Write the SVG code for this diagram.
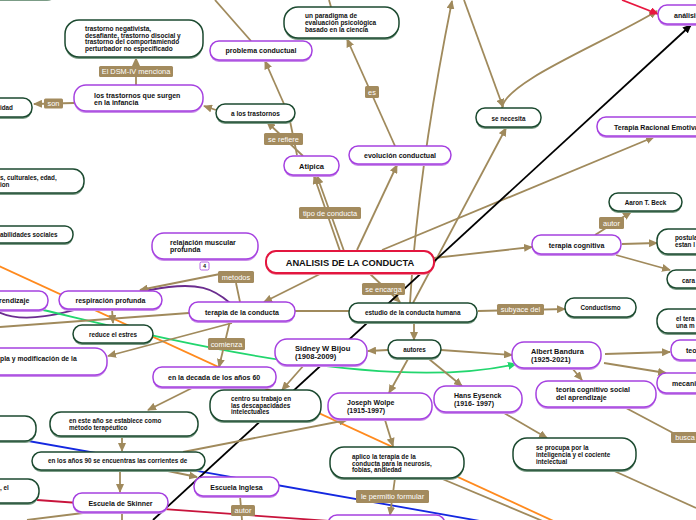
<svg xmlns="http://www.w3.org/2000/svg" width="696" height="520" viewBox="0 0 696 520">
<defs>
<marker id="ab" markerUnits="userSpaceOnUse" markerWidth="9" markerHeight="8" refX="8" refY="4" orient="auto"><path d="M0,0 L9,4 L0,8 z" fill="#a08a5c"/></marker>
<marker id="ak" markerUnits="userSpaceOnUse" markerWidth="9" markerHeight="8" refX="8" refY="4" orient="auto"><path d="M0,0 L9,4 L0,8 z" fill="#000"/></marker>
<marker id="ar" markerUnits="userSpaceOnUse" markerWidth="9" markerHeight="8" refX="8" refY="4" orient="auto"><path d="M0,0 L9,4 L0,8 z" fill="#e8173f"/></marker>
<marker id="ag" markerUnits="userSpaceOnUse" markerWidth="9" markerHeight="8" refX="8" refY="4" orient="auto"><path d="M0,0 L9,4 L0,8 z" fill="#22d66e"/></marker>
</defs>
<style>
.c{stroke:#a08a5c;stroke-width:1.8;fill:none}
.ca{stroke:#a08a5c;stroke-width:1.8;fill:none;marker-end:url(#ab)}
.sp{fill:#c98ce9}
.sg{fill:#7b9c86}
.np{fill:#fff;stroke:#a541e0;stroke-width:1.5}
.ng{fill:#fff;stroke:#1c4a30;stroke-width:1.5}
.t{font-family:"Liberation Sans",Arial,sans-serif;font-weight:bold;fill:#111}
.s{font-size:6.3px}
.m{font-size:7px}
.lb{fill:#a38b5e}
.lt{font-family:"Liberation Sans",Arial,sans-serif;font-size:7.4px;fill:#fff;text-anchor:middle}
.mid{text-anchor:middle}
</style>
<rect width="696" height="520" fill="#fff"/>
<g id="connectors">
<line class="c" x1="-10" y1="262" x2="560" y2="524" style="stroke:#ff8a1e"/>
<line class="c" x1="0" y1="436" x2="480" y2="521" style="stroke:#1428e0"/>
<line class="c" x1="37" y1="500" x2="330" y2="521" style="stroke:#c8143c"/>
<path class="c" d="M-5,310 C30,332 100,300 150,290 S215,290 230,303" style="stroke:#6b2d8f"/>
<path class="c" d="M43,310 C150,335 380,395 516,364" style="stroke:#22d66e;marker-end:url(#ag)"/>
<line class="ca" x1="136" y1="85" x2="136" y2="58"/>
<line class="ca" x1="74" y1="103" x2="34" y2="104"/>
<line class="ca" x1="216" y1="110" x2="204" y2="106"/>
<line class="ca" x1="284" y1="104" x2="265" y2="61"/>
<line class="c" x1="251" y1="41" x2="215" y2="0"/>
<line class="c" x1="331" y1="7" x2="329" y2="0"/>
<line class="ca" x1="395" y1="146" x2="347" y2="39"/>
<line class="ca" x1="303" y1="156" x2="267" y2="122"/>
<line class="c" x1="297" y1="155" x2="290" y2="121"/>
<line class="ca" x1="340" y1="251" x2="314" y2="176"/>
<line class="ca" x1="344" y1="251" x2="317" y2="176"/>
<line class="ca" x1="357" y1="250" x2="397" y2="165"/>
<line class="ca" x1="382" y1="250" x2="654" y2="137"/>
<line class="ca" x1="434" y1="258" x2="532" y2="247"/>
<line class="ca" x1="322" y1="273" x2="264" y2="302"/>
<line class="ca" x1="369" y1="273" x2="400" y2="302"/>
<path class="ca" d="M410,303 Q418,170 452,1"/>
<line class="ca" x1="413" y1="303" x2="506" y2="128"/>
<line class="ca" x1="464" y1="0" x2="503" y2="107"/>
<path class="ca" d="M502,108 C505,82 600,45 657,11"/>
<line class="c" x1="622" y1="0" x2="658" y2="14" style="stroke:#e8173f;marker-end:url(#ar)"/>
<line class="c" x1="153" y1="520" x2="691" y2="25" style="stroke:#000;marker-end:url(#ak)"/>
<line class="ca" x1="595" y1="235" x2="631" y2="212"/>
<line class="ca" x1="622" y1="244" x2="657" y2="243"/>
<line class="ca" x1="616" y1="255" x2="670" y2="270"/>
<line class="ca" x1="478" y1="311" x2="565" y2="309"/>
<line class="ca" x1="414" y1="322" x2="414" y2="340"/>
<line class="ca" x1="388" y1="350" x2="368" y2="351"/>
<line class="ca" x1="441" y1="350" x2="512" y2="355"/>
<line class="ca" x1="429" y1="359" x2="462" y2="386"/>
<line class="ca" x1="408" y1="359" x2="389" y2="393"/>
<line class="ca" x1="605" y1="354" x2="670" y2="352"/>
<line class="ca" x1="604" y1="363" x2="666" y2="373"/>
<line class="ca" x1="572" y1="368" x2="582" y2="380"/>
<line class="c" x1="626" y1="408" x2="675" y2="434"/>
<line class="ca" x1="504" y1="413" x2="547" y2="438"/>
<line class="c" x1="612" y1="470" x2="696" y2="508"/>
<line class="ca" x1="385" y1="420" x2="393" y2="446"/>
<line class="ca" x1="395" y1="478" x2="390" y2="515"/>
<line class="c" x1="440" y1="478" x2="545" y2="522"/>
<line class="ca" x1="304" y1="365" x2="282" y2="390"/>
<line class="c" x1="295" y1="311" x2="349" y2="311"/>
<path class="ca" d="M240,302 L236,283 M220,274 L140,290"/>
<line class="ca" x1="230" y1="321" x2="219" y2="367"/>
<line class="ca" x1="232" y1="323" x2="108" y2="356"/>
<line class="c" x1="189" y1="313" x2="0" y2="327"/>
<line class="ca" x1="112" y1="309" x2="113" y2="323"/>
<line class="ca" x1="192" y1="388" x2="148" y2="410"/>
<line class="ca" x1="122" y1="437" x2="122" y2="451"/>
<line class="ca" x1="120" y1="470" x2="120" y2="492"/>
<line class="ca" x1="163" y1="470" x2="197" y2="477"/>
<line class="ca" x1="183" y1="452" x2="347" y2="420"/>
<line class="c" x1="240" y1="496" x2="242" y2="520"/>
<line class="c" x1="83" y1="513" x2="27" y2="520"/>
<line class="c" x1="122" y1="512" x2="122" y2="520"/>
</g>
<g id="n_top_left"><rect class="sg" x="-40" y="-20" width="97" height="21" rx="10"/><rect class="ng" x="-40" y="-22" width="97" height="21" rx="10"/></g>
<g id="n_trastorno_neg"><rect class="sg" x="65" y="22" width="138" height="37" rx="14"/><rect class="ng" x="65" y="20" width="138" height="37" rx="14"/>
<text class="t" font-size="6.5" x="85"><tspan x="85" y="31">trastorno negativista,</tspan><tspan x="85" y="37.5">desafiante, trastorno disocial y</tspan><tspan x="85" y="44">trastorno del comportamiendo</tspan><tspan x="85" y="50.5">perturbador no especificado</tspan></text></g>
<g id="n_infancia"><rect class="sp" x="74" y="87" width="129" height="26" rx="12"/><rect class="np" x="74" y="85" width="129" height="26" rx="12"/>
<text class="t m" x="94"><tspan x="94" y="97.5">los trastornos que surgen</tspan><tspan x="94" y="105">en la infancia</tspan></text></g>
<g id="n_idad"><rect class="sg" x="-40" y="100" width="72" height="19" rx="9"/><rect class="ng" x="-40" y="98" width="72" height="19" rx="9"/><text class="t s" x="0" y="110">idad</text></g>
<g id="n_a_los_trastornos"><rect class="sg" x="216" y="106" width="79" height="18" rx="9"/><rect class="ng" x="216" y="104" width="79" height="18" rx="9"/><text class="t" font-size="6.5" x="231" y="115.5">a los trastornos</text></g>
<g id="n_problema"><rect class="sp" x="210" y="43" width="102" height="19" rx="9"/><rect class="np" x="210" y="41" width="102" height="19" rx="9"/><text class="t m mid" x="261" y="53">problema conductual</text></g>
<g id="n_paradigma"><rect class="sg" x="284" y="9" width="115" height="31" rx="14"/><rect class="ng" x="284" y="7" width="115" height="31" rx="14"/>
<text class="t" font-size="6.5" x="305"><tspan x="305" y="18">un paradigma de</tspan><tspan x="305" y="25">evaluación psicológica</tspan><tspan x="305" y="31.5">basado en la ciencia</tspan></text></g>
<g id="n_evolucion"><rect class="sp" x="349" y="148" width="102" height="18" rx="9"/><rect class="np" x="349" y="146" width="102" height="18" rx="9"/><text class="t m mid" x="400" y="157.5">evolución conductual</text></g>
<g id="n_atipica"><rect class="sp" x="284" y="158" width="55" height="19" rx="9"/><rect class="np" x="284" y="156" width="55" height="19" rx="9"/><text class="t mid" font-size="7.5" x="311.5" y="168.5">Atipica</text></g>
<g id="n_center"><rect x="266" y="253" width="168" height="22" rx="10" fill="#f08aa0"/><rect x="266" y="251" width="168" height="22" rx="10" fill="#fff" stroke="#e3163f" stroke-width="2"/><text class="t mid" font-size="9.3" x="350" y="265.5">ANALISIS DE LA CONDUCTA</text></g>
<g id="n_analisis"><rect class="sp" x="658" y="7" width="80" height="19" rx="9"/><rect class="np" x="658" y="5" width="80" height="19" rx="9"/><text class="t m" x="674" y="17.5">análisis</text></g>
<g id="n_se_necesita"><rect class="sg" x="476" y="110" width="65" height="19" rx="9"/><rect class="ng" x="476" y="108" width="65" height="19" rx="9"/><text class="t s mid" x="508.5" y="120.5">se necesita</text></g>
<g id="n_tre"><rect class="sp" x="597" y="119" width="120" height="19" rx="9"/><rect class="np" x="597" y="117" width="120" height="19" rx="9"/><text class="t m" x="614" y="129.5">Terapia Racional Emotiva</text></g>
<g id="n_aaron"><rect class="sg" x="609" y="195" width="73" height="18" rx="9"/><rect class="ng" x="609" y="193" width="73" height="18" rx="9"/><text class="t s mid" x="645.5" y="204.5">Aaron T. Beck</text></g>
<g id="n_terapia_cognitiva"><rect class="sp" x="532" y="237" width="89" height="19" rx="9"/><rect class="np" x="532" y="235" width="89" height="19" rx="9"/><text class="t m mid" x="576.5" y="247.5">terapia cognitiva</text></g>
<g id="n_postula"><rect class="sg" x="657" y="231" width="60" height="25" rx="11"/><rect class="ng" x="657" y="229" width="60" height="25" rx="11"/><text class="t s" x="675"><tspan x="675" y="240">postula</tspan><tspan x="675" y="247">estan l</tspan></text></g>
<g id="n_cara"><rect class="sg" x="667" y="272" width="60" height="18" rx="9"/><rect class="ng" x="667" y="270" width="60" height="18" rx="9"/><text class="t s" x="682" y="282.5">cara</text></g>
<g id="n_conductismo"><rect class="sg" x="565" y="300" width="71" height="19" rx="9"/><rect class="ng" x="565" y="298" width="71" height="19" rx="9"/><text class="t s mid" x="600.5" y="310">Conductismo</text></g>
<g id="n_el_tera"><rect class="sg" x="657" y="311" width="60" height="24" rx="11"/><rect class="ng" x="657" y="309" width="60" height="24" rx="11"/><text class="t s" x="676"><tspan x="676" y="320.5">el tera</tspan><tspan x="676" y="327.5">una m</tspan></text></g>
<g id="n_teo"><rect class="sp" x="671" y="342" width="40" height="20" rx="9"/><rect class="np" x="671" y="340" width="40" height="20" rx="9"/><text class="t m" x="686" y="352.5">teo</text></g>
<g id="n_mecani"><rect class="sp" x="657" y="375" width="60" height="20" rx="9"/><rect class="np" x="657" y="373" width="60" height="20" rx="9"/><text class="t m" x="672" y="385.5">mecani</text></g>
<g id="n_bandura"><rect class="sp" x="512" y="344" width="89" height="26" rx="12"/><rect class="np" x="512" y="342" width="89" height="26" rx="12"/><text class="t" font-size="7.3" x="531"><tspan x="531" y="354">Albert Bandura</tspan><tspan x="531" y="362">(1925-2021)</tspan></text></g>
<g id="n_teoria"><rect class="sp" x="536" y="383" width="120" height="26" rx="12"/><rect class="np" x="536" y="381" width="120" height="26" rx="12"/><text class="t m" x="556"><tspan x="556" y="391.5">teoría cognitivo social</tspan><tspan x="556" y="399.5">del aprendizaje</tspan></text></g>
<g id="n_se_procupa"><rect class="sg" x="513" y="440" width="123" height="32" rx="14"/><rect class="ng" x="513" y="438" width="123" height="32" rx="14"/><text class="t s" x="536"><tspan x="536" y="450">se procupa por la</tspan><tspan x="536" y="457">inteligencia y el cociente</tspan><tspan x="536" y="463.5">intelectual</tspan></text></g>
<g id="n_hans"><rect class="sp" x="434" y="388" width="88" height="26" rx="12"/><rect class="np" x="434" y="386" width="88" height="26" rx="12"/><text class="t m" x="454"><tspan x="454" y="397.5">Hans Eysenck</tspan><tspan x="454" y="405.5">(1916- 1997)</tspan></text></g>
<g id="n_joseph"><rect class="sp" x="328" y="395" width="104" height="26" rx="12"/><rect class="np" x="328" y="393" width="104" height="26" rx="12"/><text class="t m" x="347"><tspan x="347" y="404.5">Joseph Wolpe</tspan><tspan x="347" y="412.5">(1915-1997)</tspan></text></g>
<g id="n_aplico"><rect class="sg" x="330" y="449" width="134" height="31" rx="14"/><rect class="ng" x="330" y="447" width="134" height="31" rx="14"/><text class="t s" x="352"><tspan x="352" y="459">aplico la terapia de la</tspan><tspan x="352" y="465.5">conducta para la neurosis,</tspan><tspan x="352" y="472">fobias, andiedad</tspan></text></g>
<g id="n_bottom"><rect class="sp" x="328" y="517" width="117" height="20" rx="9"/><rect class="np" x="328" y="515" width="117" height="20" rx="9"/></g>
<g id="n_centro"><rect class="sg" x="210" y="392" width="111" height="31" rx="14"/><rect class="ng" x="210" y="390" width="111" height="31" rx="14"/><text class="t s" x="231"><tspan x="231" y="401">centro su trabajo en</tspan><tspan x="231" y="407.5">las descapacidades</tspan><tspan x="231" y="414">intelectuales</tspan></text></g>
<g id="n_sidney"><rect class="sp" x="275" y="341" width="92" height="26" rx="12"/><rect class="np" x="275" y="339" width="92" height="26" rx="12"/><text class="t" font-size="7.6" x="295"><tspan x="295" y="351">Sidney W Bijou</tspan><tspan x="295" y="359">(1908-2009)</tspan></text></g>
<g id="n_autores"><rect class="sg" x="388" y="342" width="53" height="18" rx="9"/><rect class="ng" x="388" y="340" width="53" height="18" rx="9"/><text class="t s mid" x="414.5" y="351.5">autores</text></g>
<g id="n_estudio"><rect class="sg" x="349" y="305" width="128" height="19" rx="9"/><rect class="ng" x="349" y="303" width="128" height="19" rx="9"/><text class="t" font-size="6.4" x="365" y="314.5">estudio de la conducta humana</text></g>
<g id="n_terapia_conducta"><rect class="sp" x="189" y="304" width="106" height="19" rx="9"/><rect class="np" x="189" y="302" width="106" height="19" rx="9"/><text class="t m mid" x="242" y="314.5">terapia de la conducta</text></g>
<g id="n_relajacion"><rect class="sp" x="152" y="235" width="106" height="26" rx="12"/><rect class="np" x="152" y="233" width="106" height="26" rx="12"/><text class="t m" x="170"><tspan x="170" y="244.5">relajación muscular</tspan><tspan x="170" y="251.5">profunda</tspan></text></g>
<g id="n_respiracion"><rect class="sp" x="59" y="293" width="103" height="18" rx="9"/><rect class="np" x="59" y="291" width="103" height="18" rx="9"/><text class="t m mid" x="110.5" y="302.5">respiración profunda</text></g>
<g id="n_reduce"><rect class="sg" x="73" y="327" width="80" height="18" rx="9"/><rect class="ng" x="73" y="325" width="80" height="18" rx="9"/><text class="t s mid" x="113" y="336.5">reduce el estres</text></g>
<g id="n_aprendizaje"><rect class="sp" x="-60" y="293" width="108" height="19" rx="9"/><rect class="np" x="-60" y="291" width="108" height="19" rx="9"/><text class="t m" x="-1" y="303">rendizaje</text></g>
<g id="n_modificacion"><rect class="sp" x="-60" y="350" width="167" height="27" rx="12"/><rect class="np" x="-60" y="348" width="167" height="27" rx="12"/><text class="t" font-size="6.8" x="0" y="360.5">pla y modificación de la</text></g>
<g id="n_culturales"><rect class="sg" x="-60" y="171" width="144" height="24" rx="11"/><rect class="ng" x="-60" y="169" width="144" height="24" rx="11"/><text class="t s" x="0"><tspan x="0" y="180">s, culturales, edad,</tspan><tspan x="0" y="187">ion</tspan></text></g>
<g id="n_habilidades"><rect class="sg" x="-60" y="228" width="133" height="17" rx="8"/><rect class="ng" x="-60" y="226" width="133" height="17" rx="8"/><text class="t s" x="0" y="237">abilidades sociales</text></g>
<g id="n_decada"><rect class="sp" x="153" y="369" width="123" height="20" rx="9"/><rect class="np" x="153" y="367" width="123" height="20" rx="9"/><text class="t m" x="168" y="379.5">en la decada de los años 60</text></g>
<g id="n_este_ano"><rect class="sg" x="50" y="414" width="148" height="24" rx="11"/><rect class="ng" x="50" y="412" width="148" height="24" rx="11"/><text class="t s" x="69"><tspan x="69" y="423">en este año se establece como</tspan><tspan x="69" y="429.5">método terapéutico</tspan></text></g>
<g id="n_anos90"><rect class="sg" x="32" y="454" width="173" height="18" rx="9"/><rect class="ng" x="32" y="452" width="173" height="18" rx="9"/><text class="t s" x="48" y="463">en los años 90 se encuentras las corrientes de</text></g>
<g id="n_left1"><rect class="sg" x="-60" y="418" width="96" height="25" rx="11"/><rect class="ng" x="-60" y="416" width="96" height="25" rx="11"/></g>
<g id="n_left2"><rect class="sg" x="-60" y="481" width="99" height="24" rx="11"/><rect class="ng" x="-60" y="479" width="99" height="24" rx="11"/><text class="t s" x="0" y="490">, el</text></g>
<g id="n_skinner"><rect class="sp" x="73" y="495" width="95" height="19" rx="9"/><rect class="np" x="73" y="493" width="95" height="19" rx="9"/><text class="t m mid" x="120.5" y="505.5">Escuela de Skinner</text></g>
<g id="n_inglesa"><rect class="sp" x="194" y="479" width="85" height="19" rx="9"/><rect class="np" x="194" y="477" width="85" height="19" rx="9"/><text class="t m mid" x="236.5" y="489.5">Escuela Inglesa</text></g>
<g id="labels">
<rect class="lb" x="99" y="66" width="74" height="11" rx="1.5"/><text class="lt" x="136" y="74.3">El DSM-IV menciona</text>
<rect class="lb" x="44" y="98.5" width="19" height="10" rx="1.5"/><text class="lt" x="53.5" y="106">son</text>
<rect class="lb" x="365" y="86" width="14" height="12" rx="1.5"/><text class="lt" x="372" y="94.5">es</text>
<rect class="lb" x="264" y="133" width="39" height="12" rx="1.5"/><text class="lt" x="283.5" y="141.5">se refiere</text>
<rect class="lb" x="299" y="207" width="62" height="12" rx="1.5"/><text class="lt" x="330" y="215.5">tipo de conducta</text>
<rect class="lb" x="599" y="217" width="25" height="12" rx="1.5"/><text class="lt" x="611.5" y="225.5">autor</text>
<rect class="lb" x="218" y="271" width="36" height="12" rx="1.5"/><text class="lt" x="236" y="279.5">metodos</text>
<rect x="200" y="262" width="9" height="8" rx="1.5" fill="#fff" stroke="#a541e0" stroke-width="0.8"/><text class="t mid" font-size="5.5" font-weight="normal" x="204.5" y="268.2">4</text>
<rect class="lb" x="362" y="283" width="43" height="12" rx="1.5"/><text class="lt" x="383.5" y="291.5">se encarga</text>
<rect class="lb" x="497" y="304" width="47" height="11" rx="1.5"/><text class="lt" x="520.5" y="312">subyace del</text>
<rect class="lb" x="208" y="338" width="37" height="12" rx="1.5"/><text class="lt" x="226.5" y="346.5">comienza</text>
<rect class="lb" x="671" y="432" width="30" height="11" rx="1.5"/><text class="lt" x="685" y="440.3">busca</text>
<rect class="lb" x="356" y="490" width="73" height="13" rx="1.5"/><text class="lt" x="392.5" y="499">le permitio formular</text>
<rect class="lb" x="231" y="505" width="24" height="11" rx="1.5"/><text class="lt" x="243" y="513">autor</text>
</g>
</svg>
